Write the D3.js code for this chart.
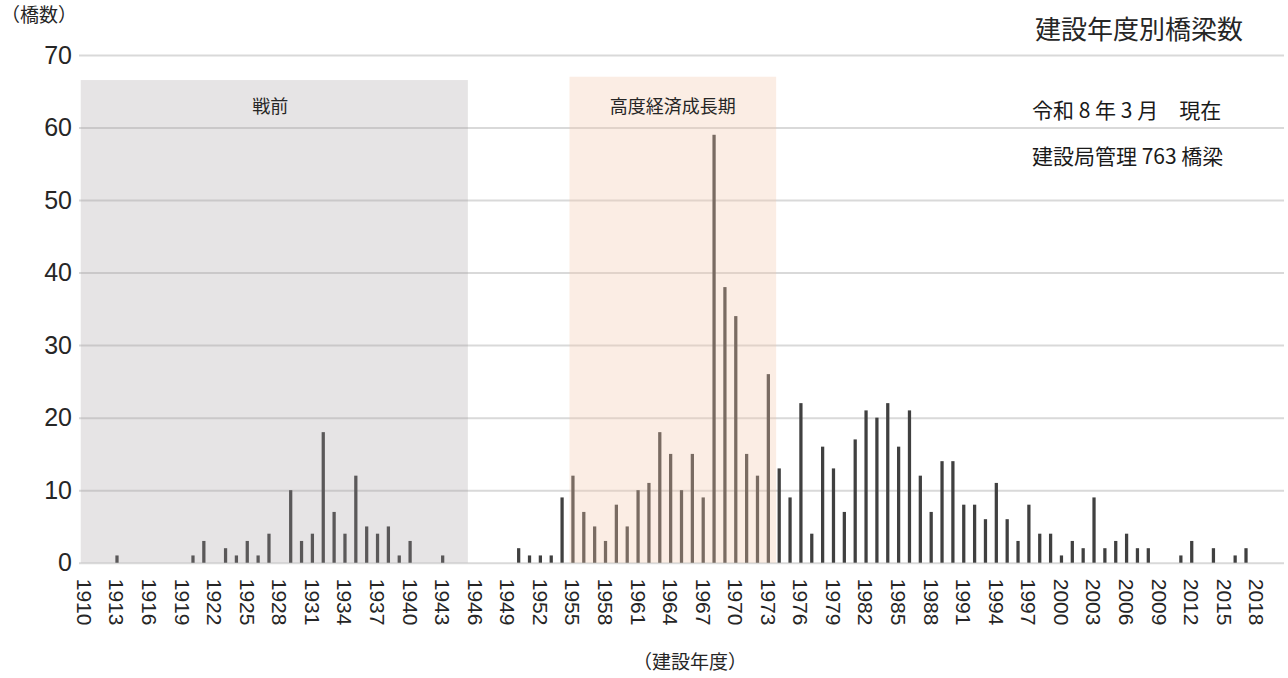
<!DOCTYPE html>
<html><head><meta charset="utf-8">
<script src="https://cdn.jsdelivr.net/npm/d3@7/dist/d3.min.js"></script>
<style>
html,body{margin:0;padding:0;background:#fff;}
svg{display:block;}
</style></head>
<body><svg id="c" width="1288" height="678"></svg>
<script>
// ---- data ----
const years = d3.range(1910, 2021);
const counts = [
 0,0,0,1,0,0,0,0,0,0,   // 1910-1919
 1,3,0,2,1,3,1,4,0,10,  // 1920-1929
 3,4,18,7,4,12,5,4,5,1, // 1930-1939
 3,0,0,1,0,0,0,0,0,0,   // 1940-1949
 2,1,1,1,9,12,7,5,3,8,  // 1950-1959
 5,10,11,18,15,10,15,9,59,38, // 1960-1969
 34,15,12,26,13,9,22,4,16,13, // 1970-1979
 7,17,21,20,22,16,21,12,7,14, // 1980-1989
 14,8,8,6,11,6,3,8,4,4,       // 1990-1999
 1,3,2,9,2,3,4,2,2,0,         // 2000-2009
 0,1,3,0,2,0,1,2,0,0,0        // 2010-2020
];
const tickYears = d3.range(1910, 2019, 3);
const yTicks = d3.range(0, 71, 10);
const periodLabels = ["戦前", "高度経済成長期"];
const periodStart = [1909.66, 1954.68];
const periodEnd = [1945.32, 1973.72];
const periodTop = [66.55, 67.0];
const titleText = "建設年度別橋梁数";
const noteLines = ["令和 8 年 3 月　現在", "建設局管理 763 橋梁"];
const yAxisTitle = "（橋数）";
const xAxisTitle = "（建設年度）";

// ---- chart ----
(function(){
const svg = d3.select("#c");
const pL = 79, pR = 1284, pT = 55, pB = 562.7;
const x = d3.scaleBand().domain(years).range([pL, pR]).paddingInner(0.7).paddingOuter(0.35);
const y = d3.scaleLinear().domain([0, 70]).range([pB, pT]);
const step = x.step(), bw = x.bandwidth();
const xc = yr => x(1910) + bw / 2 + (yr - 1910) * step;

const cjk = "'Noto Sans CJK JP', 'Noto Sans', sans-serif";
const num = "'Liberation Sans', Arial, sans-serif";

// gridlines + y labels
const gy = svg.append("g").attr("transform", `translate(${pL},0)`)
  .call(d3.axisLeft(y).tickValues(yTicks).tickSize(-(pR - pL)).tickPadding(7).tickFormat(d3.format("d")));
gy.select(".domain").remove();
gy.selectAll(".tick line").attr("stroke", "#d9d9d9").attr("stroke-width", 2);
gy.selectAll(".tick text").attr("font-family", num).attr("font-size", 25).attr("fill", "#262626");

// bars
svg.append("g").selectAll("rect").data(years.map((yr, i) => ({yr, v: counts[i]})).filter(d => d.v > 0))
  .join("rect")
  .attr("x", d => x(d.yr)).attr("width", bw)
  .attr("y", d => y(d.v)).attr("height", d => y(0) - y(d.v))
  .attr("fill", "#404040");

// period overlays
const periodFill = ["rgb(162,155,158)", "rgb(242,199,170)"];
const periodOpacity = [0.27, 0.32];
const idx = periodLabels.map((l, i) => i);
svg.append("g").selectAll("rect").data(idx)
  .join("rect")
  .attr("x", i => xc(periodStart[i])).attr("width", i => xc(periodEnd[i]) - xc(periodStart[i]))
  .attr("y", i => y(periodTop[i])).attr("height", i => y(0) - y(periodTop[i]))
  .attr("fill", i => periodFill[i]).attr("fill-opacity", i => periodOpacity[i]);
svg.append("g").selectAll("text").data(idx)
  .join("text")
  .attr("x", i => (xc(periodStart[i]) + xc(periodEnd[i])) / 2 - (i === 0 ? 4 : 0))
  .attr("y", 113)
  .attr("text-anchor", "middle").attr("font-family", cjk).attr("font-size", 18).attr("fill", "#262626")
  .text(i => periodLabels[i]);

// x axis labels
const gx = svg.append("g").attr("transform", `translate(0,${pB})`)
  .call(d3.axisBottom(x).tickValues(tickYears).tickSize(0).tickPadding(0));
gx.select(".domain").remove();
gx.selectAll(".tick text")
  .attr("font-family", num).attr("font-size", 21).attr("fill", "#262626")
  .attr("text-anchor", "start")
  .attr("transform", "translate(0,16) rotate(90)")
  .attr("x", 0).attr("y", 0).attr("dy", "0.36em");

// titles and notes
svg.append("text").attr("x", 1035).attr("y", 39).attr("font-family", cjk).attr("font-size", 26)
  .attr("fill", "#262626").text(titleText);
svg.append("g").selectAll("text").data(noteLines).join("text")
  .attr("x", 1032).attr("y", (d, i) => 118 + i * 46)
  .attr("font-family", cjk).attr("font-size", 21).attr("fill", "#1a1a1a")
  .attr("xml:space", "preserve").style("white-space", "pre").text(d => d);
svg.append("text").attr("x", 1).attr("y", 22).attr("font-family", cjk).attr("font-size", 19)
  .attr("fill", "#262626").text(yAxisTitle);
svg.append("text").attr("x", 690).attr("y", 669).attr("text-anchor", "middle").attr("font-family", cjk)
  .attr("font-size", 19).attr("fill", "#262626").text(xAxisTitle);
})();
</script>
</body></html>
